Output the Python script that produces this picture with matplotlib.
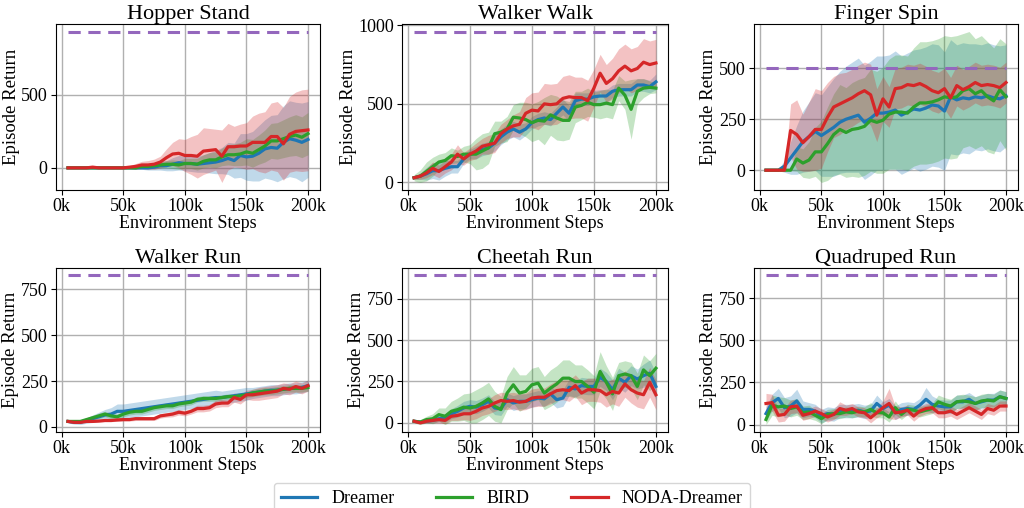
import numpy as np
import matplotlib
matplotlib.use("Agg")
import matplotlib.pyplot as plt

plt.rcParams['font.family'] = ['Liberation Serif', 'DejaVu Serif']

# environment steps (thousands)
steps = list(range(5, 205, 5))

# ---- Hopper Stand ----
hopper_dreamer = [0, 0, 0, 0, 0, 0, 0, 0, 0, 0, 0, 0, 0, 0, 5, 15, 15, 25, 35, 30,
                  30, 25, 30, 35, 40, 50, 65, 50, 85, 75, 80, 100, 130, 140, 135, 175, 200, 190, 175, 195]
hopper_dreamer_std = [2, 2, 2, 2, 2, 2, 2, 2, 2, 5, 5, 8, 10, 15, 20, 30, 35, 45, 50, 50,
                      55, 55, 60, 70, 80, 90, 110, 120, 150, 160, 170, 190, 200, 220, 230, 250, 260, 260, 270, 260]
hopper_bird = [0, 0, 0, 0, 0, 0, 0, 0, 0, 0, 0, 0, 10, 10, 15, 20, 25, 25, 20, 30,
               30, 25, 45, 55, 55, 75, 90, 90, 95, 110, 100, 125, 150, 185, 185, 200, 215, 225, 210, 235]
hopper_bird_std = [2, 2, 2, 2, 2, 2, 2, 2, 2, 3, 5, 8, 10, 12, 15, 20, 25, 30, 30, 35,
                   35, 40, 45, 50, 55, 60, 70, 75, 80, 90, 95, 100, 110, 120, 125, 130, 135, 140, 140, 145]
hopper_noda = [0, 0, 0, 0, 5, 0, 0, 0, 0, 0, 5, 10, 20, 20, 25, 40, 70, 95, 100, 85,
               85, 80, 115, 120, 125, 80, 145, 145, 150, 150, 175, 175, 175, 215, 215, 165, 230, 250, 255, 260]
hopper_noda_std = [2, 2, 2, 2, 2, 2, 2, 2, 2, 5, 10, 20, 25, 30, 35, 40, 60, 80, 100, 110,
                   130, 150, 160, 150, 140, 180, 160, 140, 150, 160, 180, 200, 210, 230, 240, 250, 260, 270, 280, 280]
hopper_ref = 935

# ---- Walker Walk ----
walk_dreamer = [30, 40, 55, 75, 75, 90, 100, 100, 150, 180, 190, 210, 220, 250, 290, 320, 340, 320, 340, 380,
                400, 410, 400, 440, 480, 440, 520, 530, 530, 545, 550, 550, 580, 590, 590, 590, 620, 620, 610, 640]
walk_dreamer_std = [10, 20, 40, 50, 60, 50, 40, 40, 30, 30, 40, 40, 40, 50, 50, 50, 50, 50, 40, 40,
                    40, 40, 40, 40, 50, 50, 50, 40, 40, 40, 40, 40, 40, 40, 40, 40, 40, 40, 40, 50]
walk_bird = [30, 40, 70, 100, 130, 140, 170, 165, 180, 180, 180, 200, 220, 310, 320, 340, 415, 410, 400, 380,
             395, 390, 430, 410, 395, 395, 480, 490, 510, 495, 495, 505, 495, 600, 555, 465, 580, 600, 605, 600]
walk_bird_std = [20, 40, 60, 60, 50, 50, 50, 40, 50, 60, 100, 110, 100, 80, 70, 80, 80, 100, 110, 120,
                 120, 150, 130, 140, 130, 120, 100, 90, 90, 80, 90, 90, 90, 80, 90, 190, 80, 60, 40, 30]
walk_noda = [30, 40, 60, 90, 70, 100, 130, 180, 150, 180, 200, 230, 240, 250, 310, 340, 360, 370, 440, 460,
             455, 500, 495, 500, 535, 545, 540, 540, 520, 600, 695, 630, 660, 710, 740, 710, 725, 765, 750, 760]
walk_noda_std = [10, 20, 30, 40, 40, 40, 50, 60, 40, 40, 50, 50, 60, 60, 60, 60, 70, 80, 100, 110,
                 120, 130, 130, 130, 140, 140, 130, 130, 130, 120, 120, 120, 130, 140, 140, 140, 140, 150, 150, 150]
walk_ref = 960

# ---- Finger Spin ----
finger_dreamer = [0, 0, 0, 20, 60, 100, 140, 165, 190, 170, 190, 210, 235, 250, 260, 270, 235, 255, 280, 280,
                  285, 295, 270, 285, 300, 295, 305, 320, 315, 290, 360, 345, 355, 350, 360, 355, 365, 355, 350, 365]
finger_dreamer_std = [0, 0, 2, 30, 80, 120, 150, 170, 190, 200, 220, 240, 250, 260, 270, 280, 280, 280, 280, 280,
                      280, 290, 290, 290, 290, 300, 300, 300, 300, 290, 280, 270, 270, 270, 260, 260, 260, 260, 260, 250]
finger_bird = [0, 0, 0, 0, 0, 55, 35, 50, 90, 90, 130, 175, 200, 185, 200, 205, 215, 245, 235, 245,
               275, 285, 285, 280, 310, 330, 330, 335, 345, 360, 355, 360, 390, 400, 375, 390, 360, 340, 395, 360]
finger_bird_std = [0, 0, 0, 0, 2, 60, 70, 90, 120, 150, 180, 200, 220, 220, 230, 240, 240, 250, 250, 260,
                   270, 280, 280, 280, 290, 300, 300, 300, 300, 300, 300, 300, 280, 280, 270, 270, 270, 260, 250, 260]
finger_noda = [0, 0, 0, 0, 195, 175, 135, 165, 200, 200, 260, 310, 325, 340, 355, 375, 390, 370, 270, 350,
               310, 400, 405, 420, 415, 425, 410, 390, 380, 400, 355, 415, 395, 410, 430, 415, 420, 415, 405, 430]
finger_noda_std = [0, 0, 0, 2, 130, 170, 140, 170, 200, 190, 170, 150, 150, 140, 140, 140, 140, 150, 130, 110,
                   100, 100, 100, 100, 100, 100, 100, 100, 100, 100, 100, 100, 100, 100, 100, 100, 100, 100, 100, 100]
finger_ref = 500

# ---- Walker Run ----
run_dreamer = [30, 25, 25, 35, 45, 55, 65, 70, 85, 85, 90, 95, 100, 105, 110, 115, 120, 125, 130, 135,
               140, 145, 150, 155, 160, 160, 165, 170, 175, 180, 185, 190, 195, 200, 200, 205, 210, 210, 215, 225]
run_dreamer_std = [8, 10, 12, 15, 20, 25, 30, 35, 40, 40, 40, 40, 40, 40, 40, 40, 40, 40, 40, 40,
                   40, 40, 40, 40, 40, 35, 35, 35, 35, 35, 30, 30, 30, 30, 30, 30, 30, 30, 30, 30]
run_bird = [30, 30, 30, 40, 50, 60, 70, 60, 55, 70, 80, 85, 85, 95, 105, 110, 115, 115, 125, 130,
            135, 150, 155, 155, 155, 160, 165, 165, 170, 175, 185, 190, 195, 195, 200, 205, 210, 210, 210, 215]
run_bird_std = [5, 5, 8, 10, 12, 15, 15, 15, 15, 15, 15, 15, 15, 15, 15, 15, 15, 15, 15, 15,
                15, 15, 15, 15, 15, 15, 15, 15, 15, 15, 20, 20, 20, 20, 20, 20, 20, 20, 20, 20]
run_noda = [30, 25, 25, 30, 30, 32, 35, 35, 38, 40, 40, 45, 45, 45, 45, 60, 65, 70, 80, 75,
            85, 100, 100, 105, 125, 130, 130, 160, 150, 175, 175, 180, 185, 190, 195, 210, 205, 220, 210, 225]
run_noda_std = [5, 5, 5, 5, 5, 6, 6, 6, 8, 8, 8, 10, 10, 10, 10, 12, 12, 15, 15, 15,
                15, 18, 18, 18, 20, 20, 20, 25, 25, 25, 30, 35, 35, 35, 35, 30, 30, 30, 30, 30]
run_ref = 825

# ---- Cheetah Run ----
cheetah_dreamer = [10, 5, 10, 15, 25, 30, 55, 70, 90, 100, 95, 110, 130, 90, 85, 140, 120, 130, 130, 140,
                   150, 145, 175, 140, 150, 215, 205, 225, 220, 220, 275, 250, 200, 270, 245, 285, 265, 285, 300, 220]
cheetah_dreamer_std = [5, 8, 10, 15, 20, 25, 30, 35, 40, 40, 40, 40, 40, 40, 40, 40, 45, 45, 45, 45,
                       45, 45, 50, 50, 50, 50, 50, 50, 50, 50, 55, 55, 60, 60, 60, 60, 60, 70, 80, 80]
cheetah_bird = [10, 5, 20, 25, 50, 40, 70, 80, 95, 90, 100, 120, 145, 100, 80, 180, 230, 180, 190, 230,
                240, 180, 210, 235, 270, 270, 250, 250, 220, 185, 310, 245, 175, 285, 295, 285, 220, 320, 285, 330]
cheetah_bird_std = [10, 15, 20, 30, 40, 50, 60, 70, 80, 90, 100, 100, 100, 90, 80, 100, 110, 110, 100, 100,
                    100, 100, 110, 110, 110, 110, 100, 100, 100, 100, 120, 100, 100, 80, 80, 80, 80, 90, 90, 90]
cheetah_noda = [10, 0, 10, 15, 20, 15, 40, 45, 55, 55, 70, 90, 100, 120, 135, 130, 135, 125, 130, 150,
                155, 155, 175, 195, 200, 195, 225, 180, 200, 200, 195, 170, 190, 180, 235, 200, 180, 170, 245, 170]
cheetah_noda_std = [5, 5, 10, 15, 20, 20, 25, 30, 35, 40, 45, 45, 45, 50, 50, 50, 50, 50, 50, 55,
                    55, 55, 60, 60, 60, 65, 65, 70, 70, 70, 70, 75, 75, 80, 80, 80, 85, 85, 90, 90]
cheetah_ref = 890

# ---- Quadruped Run ----
quad_dreamer = [65, 130, 155, 100, 110, 140, 90, 90, 80, 50, 65, 60, 80, 80, 80, 85, 75, 80, 125, 95,
                115, 70, 90, 95, 90, 115, 150, 120, 110, 105, 105, 135, 135, 150, 125, 135, 145, 145, 165, 155]
quad_dreamer_std = [40, 50, 60, 60, 60, 70, 50, 40, 40, 40, 40, 40, 40, 40, 40, 40, 40, 40, 50, 40,
                    40, 40, 40, 40, 40, 40, 70, 50, 40, 40, 40, 40, 40, 40, 40, 40, 40, 40, 40, 40]
quad_bird = [30, 115, 105, 110, 95, 105, 70, 75, 55, 35, 60, 65, 65, 75, 70, 80, 75, 90, 70, 70,
             45, 100, 60, 90, 85, 75, 85, 95, 135, 120, 110, 135, 140, 135, 125, 140, 145, 140, 165, 155]
quad_bird_std = [30, 60, 60, 50, 50, 50, 40, 40, 30, 30, 30, 30, 30, 30, 30, 30, 30, 40, 30, 30,
                 30, 40, 30, 30, 30, 30, 30, 30, 40, 40, 40, 40, 40, 40, 40, 40, 40, 40, 40, 40]
quad_noda = [125, 130, 55, 60, 105, 110, 55, 65, 80, 65, 45, 60, 95, 85, 95, 75, 70, 40, 70, 100,
             125, 70, 75, 85, 50, 80, 95, 100, 70, 70, 80, 60, 80, 100, 80, 60, 95, 85, 110, 110]
quad_noda_std = [60, 50, 40, 40, 40, 40, 30, 30, 30, 30, 30, 30, 40, 30, 30, 30, 30, 30, 30, 40,
                 90, 40, 30, 30, 30, 30, 30, 30, 30, 30, 30, 30, 30, 30, 30, 30, 30, 30, 30, 30]
quad_ref = 885

tasks = [
    ("Hopper Stand", hopper_dreamer, hopper_dreamer_std, hopper_bird, hopper_bird_std,
     hopper_noda, hopper_noda_std, hopper_ref, [0, 500]),
    ("Walker Walk", walk_dreamer, walk_dreamer_std, walk_bird, walk_bird_std,
     walk_noda, walk_noda_std, walk_ref, [0, 500, 1000]),
    ("Finger Spin", finger_dreamer, finger_dreamer_std, finger_bird, finger_bird_std,
     finger_noda, finger_noda_std, finger_ref, [0, 250, 500]),
    ("Walker Run", run_dreamer, run_dreamer_std, run_bird, run_bird_std,
     run_noda, run_noda_std, run_ref, [0, 250, 500, 750]),
    ("Cheetah Run", cheetah_dreamer, cheetah_dreamer_std, cheetah_bird, cheetah_bird_std,
     cheetah_noda, cheetah_noda_std, cheetah_ref, [0, 250, 500, 750]),
    ("Quadruped Run", quad_dreamer, quad_dreamer_std, quad_bird, quad_bird_std,
     quad_noda, quad_noda_std, quad_ref, [0, 250, 500, 750]),
]

methods = ["Dreamer", "BIRD", "NODA-Dreamer"]
colors = ["#1f77b4", "#2ca02c", "#d62728"]

fig = plt.figure(figsize=(10.24, 5.08), dpi=100)

# axes boxes in pixels: (left, right) per column, (top, bottom) per row
cols = [(56, 320), (402, 668), (754, 1018)]
rows = [(24, 190), (268, 432)]
W, H = 1024, 508

x = np.array(steps)
handles = []
for i, (title, d, ds, b, bs, n, ns, ref, yt) in enumerate(tasks):
    r, c = divmod(i, 3)
    l, rr = cols[c]
    t, bt = rows[r]
    ax = fig.add_axes([l / W, 1 - bt / H, (rr - l) / W, (bt - t) / H])
    ax.set_axisbelow(True)
    ax.grid(True, color="#b0b0b0", linewidth=1.0)
    for mean, std, col, lab in zip([d, b, n], [ds, bs, ns], colors, methods):
        mean = np.array(mean, dtype=float)
        std = np.array(std, dtype=float)
        ax.fill_between(x, mean - std, mean + std, color=col, alpha=0.28, linewidth=0)
        h, = ax.plot(x, mean, color=col, linewidth=2.3, label=lab)
        if i == 0:
            handles.append(h)
    ax.plot(x, [ref] * len(x), color="#9467bd", linestyle="--", linewidth=2.2, dashes=(4, 2.5))
    ax.set_title(title, fontsize=16, pad=3)
    ax.set_xticks([0, 50, 100, 150, 200])
    ax.set_xticklabels(["0k", "50k", "100k", "150k", "200k"])
    ax.set_yticks(yt)
    ax.tick_params(labelsize=13, length=3.5, pad=2.5)
    ax.set_xlabel("Environment Steps", fontsize=13, labelpad=0)
    ax.set_ylabel("Episode Return", fontsize=13.5, labelpad=1)

fig.legend(handles, methods, loc="lower center", ncol=3, fontsize=13,
           bbox_to_anchor=(0.5, -0.03), handlelength=2.0, columnspacing=2.3,
           frameon=True, fancybox=True)

fig.savefig("out.png", dpi=100)
